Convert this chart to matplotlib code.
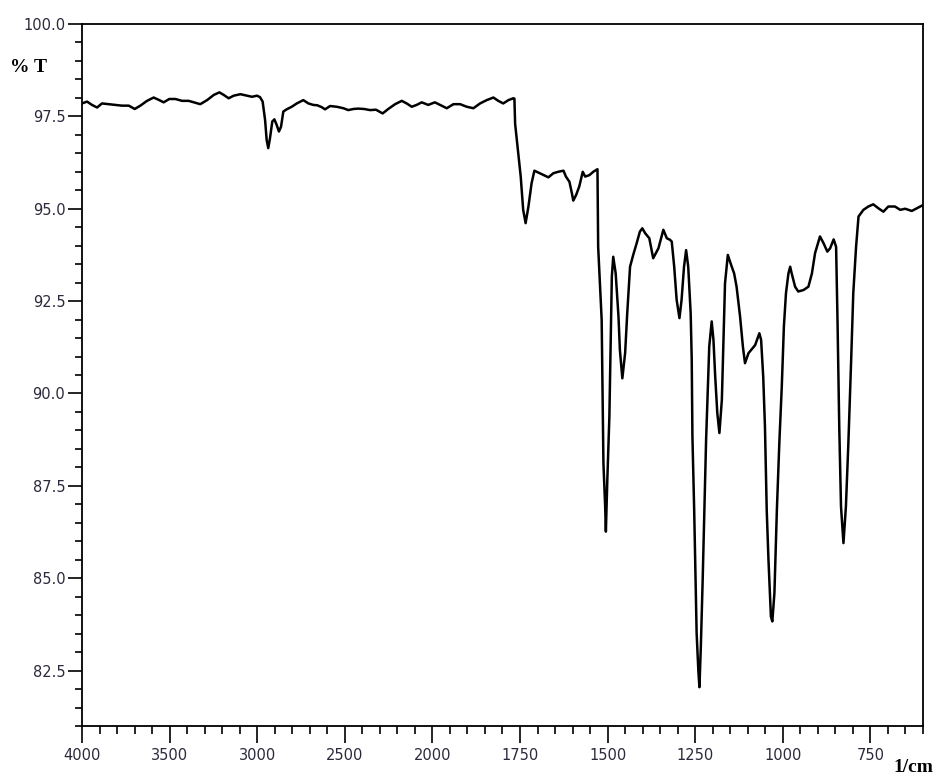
"""
IR transmittance spectrum, %T vs wavenumber (1/cm), split x scale at 2000.
"""

import numpy as np
import matplotlib
matplotlib.use("Agg")
import matplotlib.pyplot as plt
import matplotlib.ticker as ticker

#--------------------------------------------------------------
# spectrum: wavenumber (1/cm) and %T
#--------------------------------------------------------------
wavenumber = [
    4000, 3971, 3943, 3914, 3886, 3848, 3810, 3772, 3733, 3699,
    3667, 3629, 3591, 3559, 3534, 3502, 3467, 3429, 3391, 3362,
    3325, 3286, 3248, 3216, 3191, 3163, 3134, 3096, 3058, 3030,
    3001, 2984, 2969, 2955, 2946, 2937, 2927, 2914, 2902, 2889,
    2876, 2864, 2851, 2832, 2803, 2774, 2737, 2708, 2680, 2657,
    2632, 2613, 2584, 2546, 2508, 2480, 2451, 2423, 2390, 2356,
    2322, 2284, 2252, 2213, 2175, 2147, 2118, 2090, 2061, 2024,
    1993, 1978, 1959, 1940, 1921, 1902, 1883, 1864, 1845, 1826,
    1812, 1798, 1783, 1769, 1766, 1764, 1755, 1748, 1741, 1734,
    1726, 1717, 1709, 1698, 1683, 1669, 1655, 1641, 1626, 1619,
    1609, 1602, 1598, 1590, 1581, 1571, 1564, 1552, 1541, 1529,
    1527, 1517, 1514, 1512, 1507, 1505, 1501, 1495, 1491, 1488,
    1484, 1477, 1469, 1465, 1458, 1450, 1444, 1436, 1427, 1417,
    1408, 1401, 1393, 1381, 1370, 1355, 1341, 1331, 1322, 1317,
    1310, 1303, 1295, 1289, 1282, 1276, 1270, 1263, 1260, 1258,
    1253, 1249, 1246, 1241, 1238, 1234, 1229, 1224, 1219, 1214,
    1210, 1203, 1198, 1193, 1187, 1181, 1174, 1170, 1165, 1157,
    1149, 1139, 1132, 1122, 1114, 1108, 1098, 1079, 1067, 1062,
    1056, 1051, 1046, 1041, 1034, 1030, 1024, 1017, 1010, 1003,
    997, 991, 984, 979, 975, 965, 956, 941, 927, 917,
    908, 894, 884, 873, 865, 855, 848, 844, 839, 834,
    827, 820, 813, 805, 799, 791, 784, 770, 756, 742,
    727, 713, 699, 680, 665, 651, 632, 618, 600,
]
transmittance = [
    97.85, 97.90, 97.81, 97.74, 97.85, 97.83, 97.81, 97.79, 97.79, 97.70,
    97.79, 97.92, 98.01, 97.94, 97.88, 97.97, 97.97, 97.92, 97.92, 97.88,
    97.83, 97.94, 98.08, 98.15, 98.08, 97.99, 98.06, 98.10, 98.06, 98.03,
    98.06, 98.02, 97.90, 97.40, 96.86, 96.64, 96.91, 97.36, 97.42, 97.27,
    97.09, 97.22, 97.63, 97.69, 97.76, 97.85, 97.94, 97.85, 97.81, 97.80,
    97.75, 97.69, 97.78, 97.76, 97.72, 97.67, 97.70, 97.71, 97.70, 97.67,
    97.68, 97.58, 97.70, 97.83, 97.92, 97.85, 97.76, 97.81, 97.88, 97.81,
    97.88, 97.81, 97.72, 97.83, 97.83, 97.76, 97.72, 97.85, 97.94, 98.01,
    97.92, 97.85, 97.94, 97.99, 97.98, 97.30, 96.50, 95.87, 94.97, 94.61,
    95.06, 95.69, 96.03, 95.98, 95.91, 95.85, 95.96, 96.00, 96.03, 95.87,
    95.73, 95.42, 95.22, 95.37, 95.60, 96.00, 95.87, 95.91, 96.00, 96.07,
    93.97, 91.99, 89.74, 88.12, 86.94, 86.26, 87.62, 89.38, 91.45, 93.16,
    93.70, 93.25, 92.08, 91.18, 90.41, 91.10, 92.18, 93.43, 93.75, 94.07,
    94.38, 94.47, 94.34, 94.20, 93.66, 93.93, 94.43, 94.20, 94.16, 94.11,
    93.43, 92.53, 92.04, 92.53, 93.43, 93.88, 93.43, 92.17, 90.91, 88.83,
    86.85, 84.96, 83.51, 82.48, 82.05, 83.15, 84.87, 86.85, 88.74, 90.19,
    91.27, 91.95, 91.45, 90.46, 89.47, 88.93, 89.83, 91.27, 92.98, 93.75,
    93.52, 93.25, 92.89, 92.08, 91.27, 90.82, 91.09, 91.31, 91.63, 91.45,
    90.46, 89.10, 86.85, 85.50, 83.96, 83.83, 84.60, 86.85, 88.66, 90.19,
    91.81, 92.72, 93.25, 93.43, 93.26, 92.89, 92.76, 92.80, 92.89, 93.25,
    93.80, 94.25, 94.07, 93.84, 93.93, 94.17, 93.97, 91.99, 89.10, 86.94,
    85.95, 86.94, 88.65, 90.91, 92.71, 93.97, 94.79, 94.97, 95.06, 95.12,
    95.01, 94.92, 95.06, 95.06, 94.97, 95.00, 94.94, 95.01, 95.10,
]

x_major = [4000, 3500, 3000, 2500, 2000, 1750, 1500, 1250, 1000, 750]
y_major = [82.5, 85.0, 87.5, 90.0, 92.5, 95.0, 97.5, 100.0]

label_col = "#2a2a3c"


#--------------------------------------------------------------
# spectrometer style x axis: half scale above 2000 1/cm
#--------------------------------------------------------------
def fwd(w):
    w = np.asarray(w, dtype=float)
    return np.where(w >= 2000, w, 2 * w - 2000)


def inv(u):
    u = np.asarray(u, dtype=float)
    return np.where(u >= 2000, u, (u + 2000) / 2)


fig = plt.figure(figsize=(9.33, 7.76), dpi=100)
ax1 = fig.add_axes([82 / 933, 1 - 726 / 776, 841 / 933, 702 / 776])

ax1.plot(wavenumber, transmittance, color="black", lw=1.8)

ax1.set_xscale("function", functions=(fwd, inv))
ax1.set_xlim(4000, 600)
ax1.set_ylim(81.0, 100.0)

minor_x = list(range(4000, 2000, -100)) + list(range(2000, 599, -50))
ax1.xaxis.set_major_locator(ticker.FixedLocator(x_major))
ax1.xaxis.set_minor_locator(ticker.FixedLocator(minor_x))
ax1.xaxis.set_major_formatter(ticker.FormatStrFormatter("%d"))
ax1.xaxis.set_minor_formatter(ticker.NullFormatter())

ax1.yaxis.set_major_locator(ticker.FixedLocator(y_major))
ax1.yaxis.set_minor_locator(ticker.MultipleLocator(0.5))
ax1.yaxis.set_major_formatter(ticker.FormatStrFormatter("%.1f"))

for sp in ax1.spines.values():
    sp.set_linewidth(1.3)
    sp.set_color("black")

ax1.tick_params(axis="x", which="major", direction="out", length=12,
                width=1.2, pad=4, labelsize=10.5, labelcolor=label_col)
ax1.tick_params(axis="x", which="minor", direction="out", length=6, width=1.2)
ax1.tick_params(axis="y", which="major", direction="out", length=10,
                width=1.2, pad=2, labelsize=10.5, labelcolor=label_col)
ax1.tick_params(axis="y", which="minor", direction="out", length=5, width=1.2)

fig.text(10 / 933, 1 - 68 / 776, "% T", fontfamily="Liberation Serif",
         fontweight="bold", fontsize=14, va="center", ha="left")
fig.text(893 / 933, 1 - 768 / 776, "1/cm", fontfamily="Liberation Serif",
         fontweight="bold", fontsize=14, va="center", ha="left")

fig.savefig("out.png", dpi=100)
